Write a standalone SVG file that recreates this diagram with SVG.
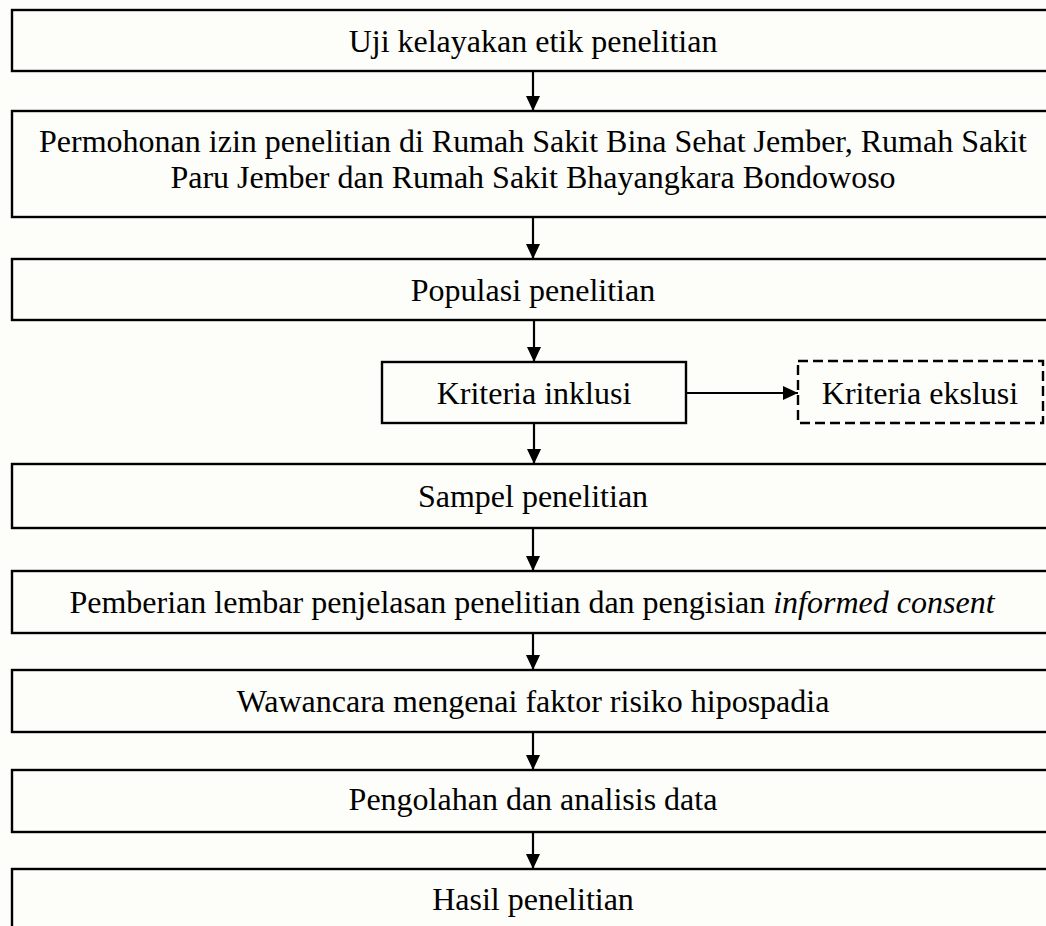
<svg xmlns="http://www.w3.org/2000/svg" width="1046" height="926" viewBox="0 0 1046 926">
  <defs>
    <marker id="arrowhead" markerUnits="userSpaceOnUse" markerWidth="16" markerHeight="14" refX="15" refY="7" orient="auto">
      <path d="M0,0 L15,7 L0,14 Z" fill="#000"/>
    </marker>
    <style>
      .box { fill: none; stroke: #000; stroke-width: 2.4; }
      .dash { fill: none; stroke: #000; stroke-width: 2.4; stroke-dasharray: 10 5; }
      .lbl { font-family: "Liberation Serif", "Times New Roman", serif; font-size: 32px; fill: #000; text-anchor: middle; }
      .conn { stroke: #000; stroke-width: 2.2; fill: none; marker-end: url(#arrowhead); }
    </style>
  </defs>

  <rect x="0" y="0" width="1046" height="926" fill="#fdfdf9"/>

  <g id="uji-etik">
    <rect class="box" x="12" y="10" width="1050" height="61"/>
    <text class="lbl" x="533" y="52">Uji kelayakan etik penelitian</text>
  </g>

  <g id="izin">
    <rect class="box" x="12" y="111" width="1050" height="106"/>
    <text class="lbl" x="533" y="152">Permohonan izin penelitian di Rumah Sakit Bina Sehat Jember, Rumah Sakit</text>
    <text class="lbl" x="533" y="188">Paru Jember dan Rumah Sakit Bhayangkara Bondowoso</text>
  </g>

  <g id="populasi">
    <rect class="box" x="12" y="259" width="1050" height="61"/>
    <text class="lbl" x="533" y="301">Populasi penelitian</text>
  </g>

  <g id="inklusi">
    <rect class="box" x="382" y="362" width="304" height="61"/>
    <text class="lbl" x="534" y="404">Kriteria inklusi</text>
  </g>

  <g id="eksklusi">
    <rect class="dash" x="798" y="361" width="245" height="62"/>
    <text class="lbl" x="920" y="404">Kriteria ekslusi</text>
  </g>

  <g id="sampel">
    <rect class="box" x="12" y="464" width="1050" height="64"/>
    <text class="lbl" x="533" y="507">Sampel penelitian</text>
  </g>

  <g id="informed-consent">
    <rect class="box" x="12" y="571" width="1050" height="62"/>
    <text class="lbl" x="532" y="613">Pemberian lembar penjelasan penelitian dan pengisian <tspan font-style="italic">informed consent</tspan></text>
  </g>

  <g id="wawancara">
    <rect class="box" x="12" y="670" width="1050" height="62"/>
    <text class="lbl" x="533" y="712">Wawancara mengenai faktor risiko hipospadia</text>
  </g>

  <g id="analisis">
    <rect class="box" x="12" y="770" width="1050" height="62"/>
    <text class="lbl" x="533" y="810">Pengolahan dan analisis data</text>
  </g>

  <g id="hasil">
    <rect class="box" x="12" y="869" width="1050" height="80"/>
    <text class="lbl" x="533" y="910">Hasil penelitian</text>
  </g>

  <g id="connectors">
    <line class="conn" x1="533" y1="71" x2="533" y2="111"/>
    <line class="conn" x1="533" y1="217" x2="533" y2="259"/>
    <line class="conn" x1="534" y1="320" x2="534" y2="362"/>
    <line class="conn" x1="534" y1="423" x2="534" y2="464"/>
    <line class="conn" x1="533" y1="528" x2="533" y2="571"/>
    <line class="conn" x1="533" y1="633" x2="533" y2="670"/>
    <line class="conn" x1="533" y1="732" x2="533" y2="770"/>
    <line class="conn" x1="533" y1="832" x2="533" y2="869"/>
    <line class="conn" x1="686" y1="393" x2="798" y2="393"/>
  </g>
</svg>
